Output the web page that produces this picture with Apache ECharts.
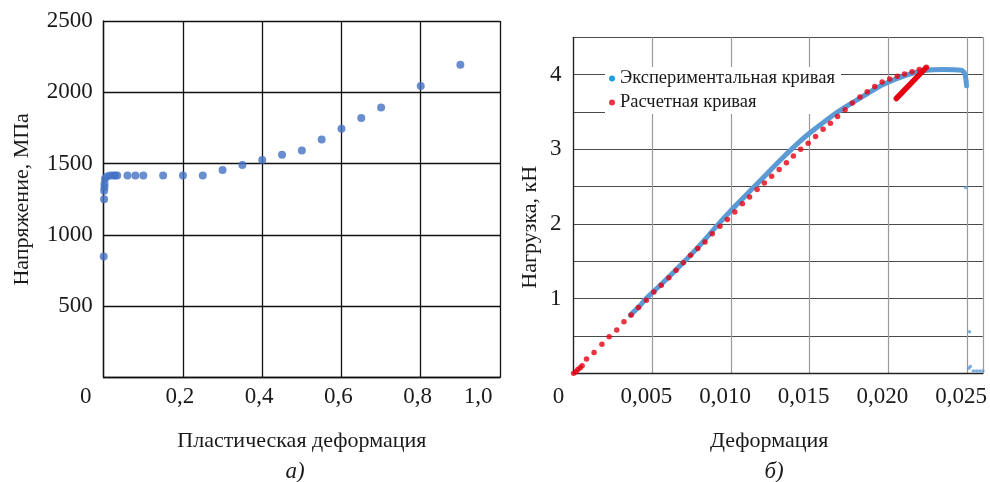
<!DOCTYPE html>
<html>
<head>
<meta charset="utf-8">
<script src="https://cdn.jsdelivr.net/npm/echarts@6/dist/echarts.min.js"></script>
<style>
html,body{margin:0;padding:0;background:#fff;}
#c{width:990px;height:482px;}
</style>
</head>
<body>
<div id="c"></div>
<script>
// ---- Chart (а): stress vs plastic strain ----
const plasticStrain = [0, 0.001, 0.001, 0.002, 0.002, 0.003, 0.008, 0.016, 0.024, 0.029, 0.034, 0.06, 0.08, 0.1, 0.15, 0.2, 0.25, 0.3, 0.35, 0.4, 0.45, 0.5, 0.55, 0.6, 0.65, 0.7, 0.8, 0.9];
const stressMPa     = [850, 1250, 1310, 1336, 1360, 1394, 1410, 1418, 1418, 1418, 1418, 1418, 1418, 1418, 1418, 1418, 1418, 1455, 1490, 1525, 1562, 1592, 1669, 1744, 1821, 1893, 2045, 2194];
const xTicksA = [0, 0.2, 0.4, 0.6, 0.8, 1.0];
const yTicksA = [500, 1000, 1500, 2000, 2500];

// ---- Chart (б): load vs deformation ----
const expStrain = [0.0036, 0.0042, 0.0046, 0.0051, 0.006, 0.007, 0.008, 0.009, 0.01, 0.0113, 0.0125, 0.0134, 0.0145, 0.0155, 0.0165, 0.0176, 0.0187, 0.0197, 0.0211, 0.0224, 0.0235, 0.0246, 0.02485, 0.02496];
const expLoad   = [0.78, 0.90, 1.00, 1.10, 1.28, 1.49, 1.71, 1.95, 2.18, 2.46, 2.72, 2.91, 3.13, 3.30, 3.46, 3.61, 3.75, 3.87, 3.99, 4.06, 4.07, 4.06, 4.01, 3.85];
const expTailStrain = [0.0249, 0.02515, 0.0251, 0.0252, 0.0254, 0.0256, 0.0258, 0.026];
const expTailLoad   = [2.49, 0.556, 0.067, 0.09, 0.03, 0.03, 0.03, 0.03];

const calcStrain = [0, 0.00015, 0.00027, 0.00042, 0.00054, 0.00082, 0.0013, 0.0018, 0.00226, 0.00274, 0.0032, 0.00366, 0.00412, 0.00462, 0.0051, 0.00557, 0.00605, 0.00651, 0.00697, 0.00743, 0.00789, 0.00835, 0.00881, 0.0093, 0.00977, 0.01024, 0.01072, 0.01118, 0.01166, 0.01212, 0.01258, 0.01306, 0.01352, 0.01396, 0.01442, 0.0149, 0.01537, 0.01585, 0.01631, 0.01677, 0.01725, 0.01771, 0.01819, 0.01865, 0.01913, 0.0196, 0.02008, 0.02056, 0.02102, 0.0215, 0.02196, 0.02242];
const calcLoad   = [0, 0.02, 0.05, 0.075, 0.10, 0.19, 0.28, 0.39, 0.49, 0.58, 0.69, 0.78, 0.88, 0.98, 1.09, 1.18, 1.28, 1.38, 1.48, 1.58, 1.67, 1.76, 1.87, 1.97, 2.06, 2.16, 2.27, 2.36, 2.46, 2.55, 2.64, 2.73, 2.82, 2.91, 3.00, 3.08, 3.17, 3.27, 3.35, 3.44, 3.53, 3.62, 3.70, 3.77, 3.84, 3.90, 3.94, 3.98, 4.01, 4.04, 4.07, 4.10];
const calcSegStrain = [0.0205, 0.02238];
const calcSegLoad   = [3.68, 4.09];
const xTicksB = [0, 0.005, 0.010, 0.015, 0.020, 0.025];
const yTicksB = [1, 2, 3, 4];

const zip = (a, b) => a.map((v, i) => [v, b[i]]);
const FONT = 'Liberation Serif';
const TXT = '#1a1a1a';

const chart = echarts.init(document.getElementById('c'), null, {renderer: 'canvas'});

function rich(pad) {
  return {fontFamily: FONT, fontSize: 23, color: TXT, padding: [0, pad, 0, 0]};
}

chart.setOption({
  animation: false,
  backgroundColor: '#fff',
  grid: [
    {left: 103.7, top: 21, width: 396.3, height: 356.7, containLabel: false},
    {left: 573.6, top: 37.3, width: 414.3, height: 336, containLabel: false}
  ],
  legend: {
    show: true,
    z: 1,
    orient: 'vertical',
    left: 605,
    top: 67,
    itemWidth: 6,
    itemHeight: 6,
    itemGap: 5,
    padding: [2, 6, 2, 4],
    backgroundColor: '#fff',
    textStyle: {fontFamily: FONT, fontSize: 18.5, color: TXT},
    data: [
      {name: 'Экспериментальная кривая', icon: 'circle', itemStyle: {color: '#1f9fe0'}},
      {name: 'Расчетная кривая', icon: 'circle', itemStyle: {color: '#e60012'}}
    ]
  },
  xAxis: [
    {
      type: 'value', gridIndex: 0, min: 0, max: 1, interval: 0.2,
      name: 'Пластическая деформация', nameLocation: 'middle', nameGap: 53,
      nameTextStyle: {fontFamily: FONT, fontSize: 22, color: TXT},
      axisLine: {show: true, lineStyle: {color: '#111', width: 1.3}},
      axisTick: {show: false},
      splitLine: {show: true, lineStyle: {color: '#111', width: 1.3}},
      axisLabel: {
        margin: 8,
        formatter: v => {
          if (!xTicksA.some(t => Math.abs(t - v) < 1e-9)) return '';
          if (v === 0) return '{z|0}';
          if (Math.abs(v - 1) < 1e-9) return '{m|1,0}';
          return '{n|' + v.toFixed(1).replace('.', ',') + '}';
        },
        rich: {z: rich(36), m: rich(44), n: rich(6)}
      }
    },
    {
      type: 'value', gridIndex: 1, min: 0, max: 0.026, interval: 0.005,
      name: 'Деформация', nameLocation: 'middle', nameGap: 57,
      nameTextStyle: {fontFamily: FONT, fontSize: 22, color: TXT, padding: [0, 18, 0, 0]},
      axisLine: {show: true, lineStyle: {color: '#222', width: 1.3}},
      axisTick: {show: false},
      splitLine: {show: true, lineStyle: {color: '#9a9a9a', width: 1.2}},
      axisLabel: {
        margin: 12,
        formatter: v => {
          if (!xTicksB.some(t => Math.abs(t - v) < 1e-9)) return '';
          if (v === 0) return '{z|0}';
          return '{n|' + v.toFixed(3).replace('.', ',') + '}';
        },
        rich: {z: rich(30), n: rich(12)}
      }
    }
  ],
  yAxis: [
    {
      type: 'value', gridIndex: 0, min: 0, max: 2500, interval: 500,
      name: 'Напряжение, МПа', nameLocation: 'middle', nameGap: 70,
      nameTextStyle: {fontFamily: FONT, fontSize: 22, color: TXT},
      axisLine: {show: true, lineStyle: {color: '#111', width: 1.3}},
      axisTick: {show: false},
      splitLine: {show: true, lineStyle: {color: '#111', width: 1.3}},
      axisLabel: {
        margin: 11, fontFamily: FONT, fontSize: 23, color: TXT,
        formatter: v => yTicksA.includes(v) ? String(v) : ''
      }
    },
    {
      type: 'value', gridIndex: 1, min: 0, max: 4.5, interval: 0.5,
      name: 'Нагрузка, кН', nameLocation: 'middle', nameGap: 32,
      nameTextStyle: {fontFamily: FONT, fontSize: 22, color: TXT, padding: [0, 44, 0, 0]},
      axisLine: {show: true, lineStyle: {color: '#222', width: 1.3}},
      axisTick: {show: false},
      splitLine: {show: true, lineStyle: {color: '#4a4a4a', width: 1.2}},
      axisLabel: {
        margin: 12, fontFamily: FONT, fontSize: 23, color: TXT,
        formatter: v => yTicksB.includes(v) ? String(v) : ''
      }
    }
  ],
  series: [
    {
      type: 'scatter', xAxisIndex: 0, yAxisIndex: 0,
      symbol: 'circle', symbolSize: 8,
      itemStyle: {color: '#4472c4'},
      data: zip(plasticStrain, stressMPa)
    },
    {
      name: 'Экспериментальная кривая',
      type: 'line', xAxisIndex: 1, yAxisIndex: 1,
      showSymbol: false, symbol: 'none', smooth: 0.3,
      lineStyle: {color: '#5b9bd5', width: 5, cap: 'round', join: 'round'},
      itemStyle: {color: '#5b9bd5'},
      data: zip(expStrain, expLoad), z: 2
    },
    {
      name: 'Экспериментальная кривая',
      type: 'scatter', xAxisIndex: 1, yAxisIndex: 1,
      symbol: 'circle', symbolSize: 3.5,
      itemStyle: {color: '#5b9bd5'},
      data: zip(expTailStrain, expTailLoad), z: 2
    },
    {
      name: 'Расчетная кривая',
      type: 'scatter', xAxisIndex: 1, yAxisIndex: 1,
      symbol: 'circle', symbolSize: 5.5,
      itemStyle: {color: '#e60012'},
      data: zip(calcStrain, calcLoad), z: 3
    },
    {
      name: 'Расчетная кривая',
      type: 'line', xAxisIndex: 1, yAxisIndex: 1,
      showSymbol: false, symbol: 'none',
      lineStyle: {color: '#e60012', width: 5.5, cap: 'round'},
      itemStyle: {color: '#e60012'},
      data: zip(calcSegStrain, calcSegLoad), z: 3
    }
  ],
  graphic: [
    {type: 'text', x: 295, y: 472, style: {text: 'а)', font: 'italic 23px "Liberation Serif"', fill: TXT, align: 'center', verticalAlign: 'middle'}},
    {type: 'text', x: 774, y: 472, style: {text: 'б)', font: 'italic 23px "Liberation Serif"', fill: TXT, align: 'center', verticalAlign: 'middle'}}
  ]
});
</script>
</body>
</html>
